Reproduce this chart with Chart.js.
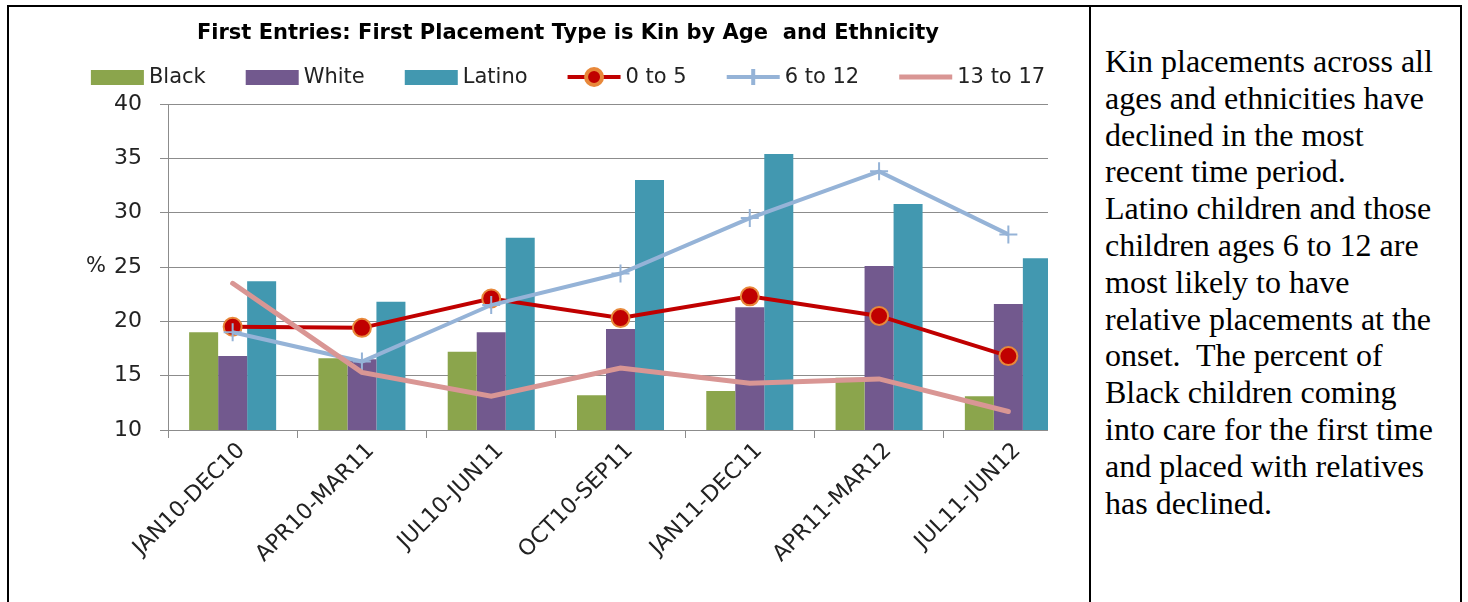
<!DOCTYPE html>
<html>
<head>
<meta charset="utf-8">
<script src="https://cdn.jsdelivr.net/npm/chart.js@4.4.1/dist/chart.umd.min.js"></script>
<style>
  body { margin: 0; background: #fff; width: 1468px; height: 602px; overflow: hidden; position: relative; }
  #leftCell { position: absolute; left: 7px; top: 5px; width: 1084px; height: 700px; box-sizing: border-box;
              border-left: 2px solid #000; border-top: 2px solid #000; border-right: 2px solid #000; }
  #rightCell { position: absolute; left: 1091px; top: 5px; width: 371px; height: 700px; box-sizing: border-box;
               border-top: 2px solid #000; border-right: 2px solid #000; }
  #note { position: absolute; left: 14px; top: 36px; font-family: "Liberation Serif", "Times New Roman", serif;
          font-size: 32px; line-height: 36.8px; color: #000; white-space: nowrap; }
  #chartWrap { position: absolute; left: 10px; top: 8px; width: 1038px; height: 594px; overflow: hidden; }
  #chart { display: block; }
</style>
</head>
<body>
<div id="leftCell"></div>
<div id="rightCell">
  <div id="note">Kin placements across all<br>ages and ethnicities have<br>declined in the most<br>recent time period.<br>Latino children and those<br>children ages 6 to 12 are<br>most likely to have<br>relative placements at the<br>onset.&nbsp; The percent of<br>Black children coming<br>into care for the first time<br>and placed with relatives<br>has declined.</div>
</div>
<div id="chartWrap"><canvas id="chart" width="1116" height="594"></canvas></div>
<script>
const titleText = "First Entries: First Placement Type is Kin by Age  and Ethnicity";
const categories = ["JAN10-DEC10", "APR10-MAR11", "JUL10-JUN11", "OCT10-SEP11", "JAN11-DEC11", "APR11-MAR12", "JUL11-JUN12"];
const black = [19.0, 16.6, 17.2, 13.2, 13.6, 14.8, 13.1];
const white = [16.8, 16.5, 19.0, 19.3, 21.3, 25.1, 21.6];
const latino = [23.7, 21.8, 27.7, 33.0, 35.4, 30.8, 25.8];
const age0to5 = [19.5, 19.4, 22.1, 20.3, 22.3, 20.5, 16.8];
const age6to12 = [19.0, 16.3, 21.5, 24.4, 29.5, 33.8, 28.0];
const age13to17 = [23.5, 15.3, 13.1, 15.7, 14.3, 14.7, 11.7];
const yTicks = [10, 15, 20, 25, 30, 35, 40];

const FONT = '"DejaVu Sans", sans-serif';
const GRID = "#8c8c8c";

// title, legend and the "%" axis label
const decor = {
    id: "decor",
    afterDraw(chart) {
        const ctx = chart.ctx;
        const area = chart.chartArea;
        ctx.save();
        ctx.fillStyle = "#000";
        ctx.textBaseline = "middle";
        ctx.textAlign = "center";
        ctx.font = "bold 21px " + FONT;
        ctx.fillText(titleText, chart.width / 2, 26);

        ctx.font = "21px " + FONT;
        ctx.fillStyle = "#222";
        ctx.fillText("%", 86, (area.top + area.bottom) / 2);

        // legend
        const sw = 53, tg = 5, gap = 40, ly = 69;
        const items = chart.data.datasets.map(ds => ({ ds, w: sw + tg + ctx.measureText(ds.label).width }));
        const total = items.reduce((s, it) => s + it.w, 0) + gap * (items.length - 1);
        let x = chart.width / 2 - total / 2;
        items.forEach(({ ds, w }) => {
            if (ds.type === "line") {
                ctx.strokeStyle = ds.borderColor;
                ctx.lineWidth = ds.borderWidth;
                ctx.lineCap = "butt";
                ctx.beginPath();
                ctx.moveTo(x, ly);
                ctx.lineTo(x + sw, ly);
                ctx.stroke();
                if (ds.pointRadius > 0) {
                    ctx.fillStyle = ds.pointBackgroundColor;
                    ctx.strokeStyle = ds.pointBorderColor;
                    Chart.helpers.drawPoint(ctx, {
                        pointStyle: ds.pointStyle, radius: ds.pointRadius - 1, rotation: 0,
                        borderWidth: ds.pointBorderWidth
                    }, x + sw / 2, ly);
                }
            } else {
                ctx.fillStyle = ds.backgroundColor;
                ctx.fillRect(x, ly - 7, sw, 15);
            }
            ctx.fillStyle = "#222";
            ctx.textAlign = "left";
            ctx.fillText(ds.label, x + sw + tg, ly + 1);
            x += w + gap;
        });
        ctx.restore();
    }
};

new Chart(document.getElementById("chart").getContext("2d"), {
    data: {
        labels: categories,
        datasets: [
            { type: "bar", label: "Black", data: black, backgroundColor: "#8ba54c", order: 10 },
            { type: "bar", label: "White", data: white, backgroundColor: "#72598e", order: 10 },
            { type: "bar", label: "Latino", data: latino, backgroundColor: "#4298b0", order: 10 },
            {
                type: "line", label: "0 to 5", data: age0to5, borderColor: "#c00000", borderWidth: 4,
                pointStyle: "circle", pointRadius: 9, pointBackgroundColor: "#c00000",
                pointBorderColor: "#e8883a", pointBorderWidth: 2, tension: 0, order: 3
            },
            {
                type: "line", label: "6 to 12", data: age6to12, borderColor: "#95b3d7", borderWidth: 4,
                pointStyle: "cross", pointRadius: 9, pointBackgroundColor: "#95b3d7",
                pointBorderColor: "#95b3d7", pointBorderWidth: 2, tension: 0, order: 2
            },
            {
                type: "line", label: "13 to 17", data: age13to17, borderColor: "#d99694", borderWidth: 5,
                pointRadius: 0, borderCapStyle: "round", tension: 0, order: 1
            }
        ]
    },
    options: {
        responsive: false,
        animation: false,
        events: [],
        layout: { padding: { top: 96, right: 53, left: 0, bottom: 0 } },
        datasets: { bar: { categoryPercentage: 0.673, barPercentage: 1.0 } },
        plugins: { legend: { display: false }, title: { display: false }, tooltip: { enabled: false } },
        scales: {
            x: {
                offset: true,
                grid: { offset: true, drawOnChartArea: false, drawTicks: true, tickLength: 8, color: GRID },
                border: { color: GRID },
                ticks: { minRotation: 45, maxRotation: 45, autoSkip: false, color: "#222", padding: 0,
                         labelOffset: 9, font: { family: FONT, size: 22 } },
                afterFit(scale) { scale.height = 172; }
            },
            y: {
                min: 10, max: 40,
                afterBuildTicks(scale) { scale.ticks = yTicks.map(v => ({ value: v })); },
                grid: { color: GRID, tickLength: 8 },
                border: { color: GRID },
                ticks: { color: "#222", padding: 18, font: { family: FONT, size: 22 } },
                afterFit(scale) { scale.width = 158; }
            }
        }
    },
    plugins: [decor]
});
</script>
</body>
</html>
